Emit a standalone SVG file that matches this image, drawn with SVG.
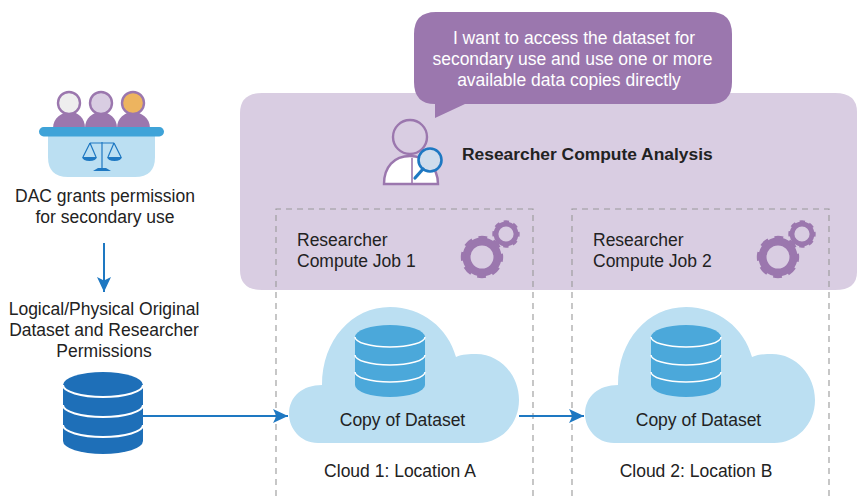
<svg xmlns="http://www.w3.org/2000/svg" width="857" height="496" viewBox="0 0 857 496">
<style>
text{font-family:"Liberation Sans",Arial,sans-serif;font-size:17.5px;fill:#222}
.m{text-anchor:middle}
.w{fill:#fff}
.dash{fill:none;stroke:#999;stroke-width:1.1;stroke-dasharray:6 5}
.conn{fill:none;stroke:#1e78c2;stroke-width:2}
.cloud{fill:#bbdff2}
.sep{fill:none;stroke:#fff;stroke-width:1.5}
.sep2{fill:none;stroke:#fff;stroke-width:2}
.head{stroke:#9b77ae;stroke-width:2.4}
.body{fill:#9b77ae}
.sc{fill:none;stroke:#1e78c2;stroke-width:1.2}
</style>
<defs>
<marker id="arr" markerUnits="userSpaceOnUse" markerWidth="16" markerHeight="14" refX="15" refY="7" orient="auto">
<path d="M0 0L15 7L0 14L3.500 7Z" fill="#1e78c2"/>
</marker>
<g id="gears">
<circle cx="0" cy="0" r="15.500" fill="none" stroke="#9b77ae" stroke-width="8"/>
<circle cx="0" cy="0" r="19" fill="none" stroke="#9b77ae" stroke-width="4.400" stroke-dasharray="8.500 6.420" stroke-dashoffset="4"/>
<circle cx="24" cy="-23" r="10" fill="none" stroke="#9b77ae" stroke-width="4.800"/>
<circle cx="24" cy="-23" r="12.200" fill="none" stroke="#9b77ae" stroke-width="3" stroke-dasharray="5.200 4.380" stroke-dashoffset="2.600"/>
</g>
<g id="copydb">
<path d="M0 12V60A35 12 0 0 0 70 60V12Z" fill="#4ba8da"/>
<ellipse cx="35" cy="12" rx="35" ry="12" fill="#4ba8da"/>
<path class="sep" d="M0 12A35 10 0 0 0 70 12M0 30A35 10 0 0 0 70 30M0 47A35 10 0 0 0 70 47"/>
</g>
<path id="cloudshape" class="cloud" d="M318 443C300 443 289 428 289 414C289 396 303 385 322 385C322 340 352 307 390 307C422 307 448 328 456 357C462 354 470 354 476 354C500 354 519 375 519 400C519 425 500 443 478 443Z"/>
</defs>

<g id="compute-panel">
<path d="M262 93H835Q857 93 857 112V272Q857 290 835 290H262Q240 290 240 270V113Q240 93 262 93Z" fill="#d9cde2"/>
<text x="462" y="160" style="font-weight:700;font-size:17.400px">Researcher Compute Analysis</text>
</g>

<g id="speech-bubble">
<path d="M436 12H710Q732 12 732 34V82Q732 104 710 104H465L435 118V104Q414 104 414 82V34Q414 12 436 12Z" fill="#9b77ae"/>
<text class="m w" x="574" y="44">I want to access the dataset for</text>
<text class="m w" x="572.500" y="65">secondary use and use one or more</text>
<text class="m w" x="569" y="86">available data copies directly</text>
</g>

<g id="researcher">
<path d="M384 184C384 167 394 156 410 156C424 156 438 166 438 184Z" fill="#fff" stroke="#9b77ae" stroke-width="2.400"/>
<path d="M412 158V184" stroke="#9b77ae" stroke-width="1.600"/>
<circle class="head" cx="410" cy="137" r="17" fill="#d9cde2"/>
<circle cx="430" cy="160" r="11.500" fill="#cfdcec" stroke="#1e78c2" stroke-width="2.600"/>
<path d="M423 169L415 178" stroke="#1e78c2" stroke-width="3.200" stroke-linecap="round"/>
</g>

<g id="dac">
<path class="body" d="M53 128C53 118 62 112 70 112C78 112 85 118 85 128Z"/>
<path class="body" d="M85 128C85 118 93 112 101 112C109 112 117 118 117 128Z"/>
<path class="body" d="M117 128C117 118 125 112 133 112C141 112 150 118 150 128Z"/>
<circle class="head" cx="69" cy="103" r="11" fill="#eeeeee"/>
<circle class="head" cx="101" cy="103" r="11" fill="#d9cde2"/>
<circle class="head" cx="133" cy="103" r="11" fill="#edb45f"/>
<path d="M48 136H155V157Q155 177 135 177H68Q48 177 48 157Z" fill="#bbdff2"/>
<rect x="39" y="127" width="125" height="9.500" rx="4.700" fill="#3fa3d8"/>
<path class="sc" d="M102 142V168M90 143H114M90 143L83 157M90 143L96 157M114 143L108 157M114 143L121 157"/>
<path d="M82 157H97Q96 161 89.500 161Q83 161 82 157ZM107 157H122Q121 161 114.500 161Q108 161 107 157ZM93 171L98 168H106L111 171Z" fill="#1e78c2"/>
<text class="m" x="105" y="202">DAC grants permission</text>
<text class="m" x="105" y="223">for secondary use</text>
</g>

<g id="original-dataset">
<text class="m" x="104" y="315">Logical/Physical Original</text>
<text class="m" x="104" y="336">Dataset and Researcher</text>
<text class="m" x="104" y="357">Permissions</text>
<path d="M63 385V441A40 13 0 0 0 143 441V385Z" fill="#1e6fb8"/>
<ellipse cx="103" cy="385" rx="40" ry="13" fill="#1e6fb8"/>
<path class="sep2" d="M63 385A40 12 0 0 0 143 385M63 405A40 12 0 0 0 143 405M63 425A40 12 0 0 0 143 425"/>
</g>

<g id="job-1">
<path class="dash" d="M276 496V209H533V496"/>
<text x="297" y="246">Researcher</text>
<text x="297" y="267">Compute Job 1</text>
<use href="#gears" x="482" y="257"/>
</g>

<g id="job-2">
<path class="dash" d="M572 496V209H829V496"/>
<text x="593" y="246">Researcher</text>
<text x="593" y="267">Compute Job 2</text>
<use href="#gears" x="778" y="257"/>
</g>

<g id="cloud-1">
<use href="#cloudshape"/>
<use href="#copydb" x="355" y="325"/>
<text class="m" x="402.500" y="426">Copy of Dataset</text>
<text class="m" x="400" y="477">Cloud 1: Location A</text>
</g>

<g id="cloud-2">
<use href="#cloudshape" x="296"/>
<use href="#copydb" x="651" y="325"/>
<text class="m" x="698.500" y="426">Copy of Dataset</text>
<text class="m" x="696" y="477">Cloud 2: Location B</text>
</g>

<g id="connectors">
<path class="conn" d="M104 243V292" marker-end="url(#arr)"/>
<path class="conn" d="M143 416H288" marker-end="url(#arr)"/>
<path class="conn" d="M519 416H584" marker-end="url(#arr)"/>
</g>
</svg>
